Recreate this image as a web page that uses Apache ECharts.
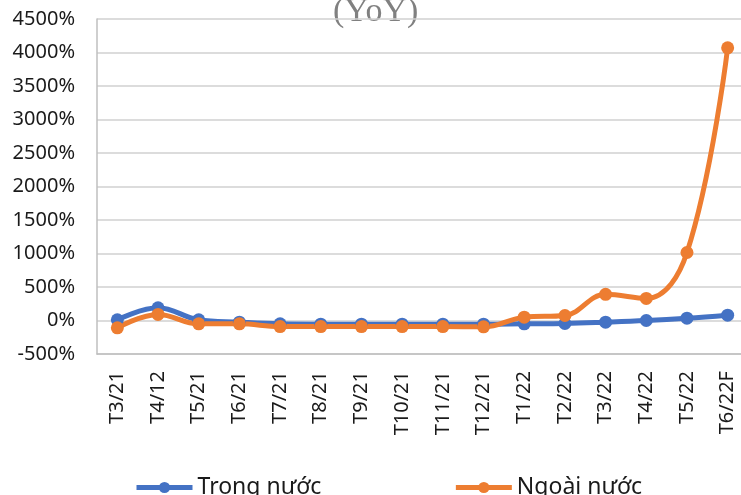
<!DOCTYPE html>
<html>
<head>
<meta charset="utf-8">
<script src="https://cdn.jsdelivr.net/npm/echarts@6/dist/echarts.min.js"></script>
<style>
  html, body { margin: 0; padding: 0; background: #fff; }
  #chart { width: 741px; height: 495px; }
</style>
</head>
<body>
<div id="chart"></div>
<script>
// Monthly growth (YoY), domestic vs. foreign
const categories = ['T3/21', 'T4/12', 'T5/21', 'T6/21', 'T7/21', 'T8/21', 'T9/21', 'T10/21',
  'T11/21', 'T12/21', 'T1/22', 'T2/22', 'T3/22', 'T4/22', 'T5/22', 'T6/22F'];
const trongNuoc = [10, 190, 10, -25, -50, -55, -55, -55, -55, -55, -50, -45, -25, 0, 35, 80];
const ngoaiNuoc = [-110, 90, -50, -50, -90, -90, -90, -90, -90, -95, 50, 75, 390, 330, 1015, 4070];
const seriesNames = ['Trong nước', 'Ngoài nước'];
const yTicks = { min: -500, max: 4500, step: 500 };

const chart = echarts.init(document.getElementById('chart'));
const baseFont = 'Noto Sans';

function lineSeries(name, data, color) {
  return {
    name: name,
    type: 'line',
    data: data,
    smooth: 0.4,
    symbol: 'circle',
    symbolSize: 13,
    lineStyle: { width: 5, color: color },
    itemStyle: { color: color },
    emphasis: { disabled: true }
  };
}

chart.setOption({
  animation: false,
  graphic: [{
    type: 'text',
    left: 333,
    top: -5,
    style: {
      text: '(YoY)',
      font: '34px "Liberation Serif"',
      fill: '#808080'
    }
  }],
  grid: {
    left: 97, width: 651, top: 19, bottom: 141,
    containLabel: false, outerBoundsMode: 'none'
  },
  legend: {
    left: 129,
    top: 471,
    itemWidth: 56,
    itemHeight: 14,
    itemGap: 132,
    lineStyle: { width: 5 },
    textStyle: { fontFamily: baseFont, fontSize: 23, color: '#1a1a1a' },
    data: seriesNames
  },
  xAxis: {
    type: 'category',
    data: categories,
    boundaryGap: true,
    axisLine: { onZero: false, lineStyle: { color: '#bfbfbf', width: 1.5 } },
    axisTick: { show: false },
    axisLabel: {
      rotate: 90,
      margin: 17,
      interval: 0,
      fontFamily: baseFont,
      fontSize: 20,
      color: '#1a1a1a'
    }
  },
  yAxis: {
    type: 'value',
    min: yTicks.min,
    max: yTicks.max,
    interval: yTicks.step,
    axisLine: { show: true, lineStyle: { color: '#bfbfbf', width: 1.5 } },
    axisTick: { show: false },
    splitLine: { lineStyle: { color: '#d0d0d0', width: 1.5 } },
    axisLabel: {
      formatter: function (v) { return v + '%'; },
      margin: 22,
      fontFamily: baseFont,
      fontSize: 20,
      color: '#1a1a1a'
    }
  },
  series: [
    lineSeries(seriesNames[0], trongNuoc, '#4472C4'),
    lineSeries(seriesNames[1], ngoaiNuoc, '#ED7D31')
  ]
});
</script>
</body>
</html>
